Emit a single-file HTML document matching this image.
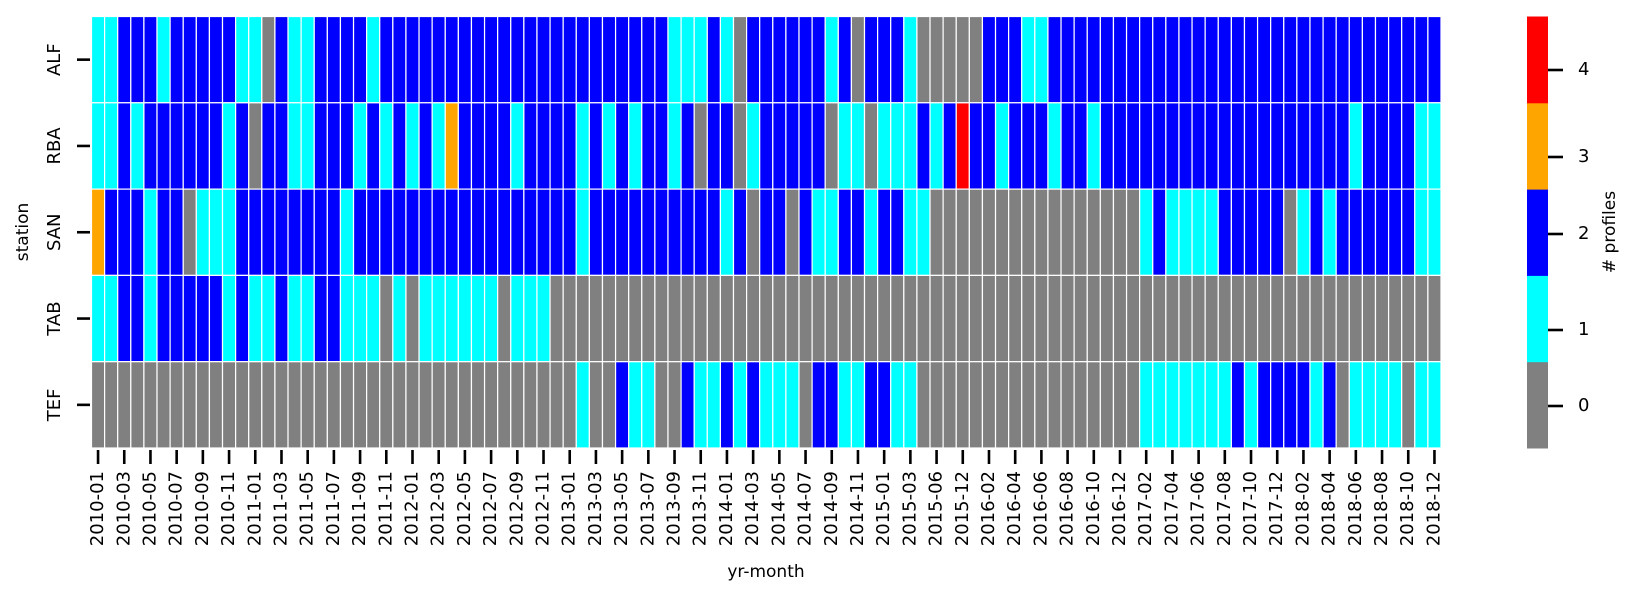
<!DOCTYPE html>
<html>
<head>
<meta charset="utf-8">
<style>
  html,body{margin:0;padding:0;background:#fff;}
  svg{display:block;font-family:"DejaVu Sans","Liberation Sans",sans-serif;}
</style>
</head>
<body>
<svg id="chart" width="1635" height="596" viewBox="0 0 1635 596" xmlns="http://www.w3.org/2000/svg">
  <g id="cells"></g>
  <g id="xaxis"></g>
  <g id="yaxis"></g>
  <text x="23" y="232" font-size="17" text-anchor="middle" dominant-baseline="middle" transform="rotate(-90 23 232)">station</text>
  <text x="766" y="577" font-size="17" text-anchor="middle">yr-month</text>
  <g id="cbar"></g>
  <text x="1610" y="232" font-size="17" text-anchor="middle" dominant-baseline="middle" transform="rotate(-90 1610 232)"># profiles</text>
</svg>
<script>
const stations = ["ALF","RBA","SAN","TAB","TEF"];
const months = [
"2010-01","2010-02","2010-03","2010-04","2010-05","2010-06","2010-07","2010-08","2010-09","2010-10","2010-11","2010-12",
"2011-01","2011-02","2011-03","2011-04","2011-05","2011-06","2011-07","2011-08","2011-09","2011-10","2011-11","2011-12",
"2012-01","2012-02","2012-03","2012-04","2012-05","2012-06","2012-07","2012-08","2012-09","2012-10","2012-11","2012-12",
"2013-01","2013-02","2013-03","2013-04","2013-05","2013-06","2013-07","2013-08","2013-09","2013-10","2013-11","2013-12",
"2014-01","2014-02","2014-03","2014-04","2014-05","2014-06","2014-07","2014-08","2014-09","2014-10","2014-11","2014-12",
"2015-01","2015-02","2015-03","2015-04","2015-06","2015-11","2015-12",
"2016-01","2016-02","2016-03","2016-04","2016-05","2016-06","2016-07","2016-08","2016-09","2016-10","2016-11","2016-12",
"2017-01","2017-02","2017-03","2017-04","2017-05","2017-06","2017-07","2017-08","2017-09","2017-10","2017-11","2017-12",
"2018-01","2018-02","2018-03","2018-04","2018-05","2018-06","2018-07","2018-08","2018-09","2018-10","2018-11","2018-12"];
const alfValues = [1,1,2,2,2,1,2,2,2,2, 2,1,1,0,2,1,1,2,2,2, 2,1,2,2,2,2,2,2,2,2, 2,2,2,2,2,2,2,2,2,2,
 2,2,2,2,1,1,1,2,1,0, 2,2,2,2,2,2,1,2,0,2, 2,2,1,0,0,0,0,0,2,2, 2,1,1,2,2,2,2,2,2,2,
 2,2,2,2,2,2,2,2,2,2, 2,2,2,2,2,2,2,2,2,2, 2,2,2];
const rbaValues = [1,1,2,1,2,2,2,2,2,2, 1,2,0,2,2,1,1,2,2,2, 1,2,1,2,1,2,1,3,2,2, 2,2,1,2,2,2,2,1,2,1,
 2,1,2,2,1,2,0,2,2,0, 1,2,2,2,2,2,0,1,1,0, 1,1,1,2,1,2,4,2,2,1, 2,2,2,1,2,2,1,2,2,2,
 2,2,2,2,2,2,2,2,2,2, 2,2,2,2,2,2,1,2,2,2, 2,1,1];
const sanValues = [3,2,2,2,1,2,2,0,1,1, 1,2,2,2,2,2,2,2,2,1, 2,2,2,2,2,2,2,2,2,2, 2,2,2,2,2,2,2,1,2,2,
 2,2,2,2,2,2,2,2,1,2, 0,2,2,0,2,1,1,2,2,1, 2,2,1,1,0,0,0,0,0,0, 0,0,0,0,0,0,0,0,0,0,
 1,2,1,1,1,1,2,2,2,2, 2,0,1,2,1,2,2,2,2,2, 2,1,1];
const tabValues = [1,1,2,2,1,2,2,2,2,2, 1,2,1,1,2,1,1,2,2,1, 1,1,0,1,0,1,1,1,1,1, 1,0,1,1,1,0,0,0,0,0,
 0,0,0,0,0,0,0,0,0,0, 0,0,0,0,0,0,0,0,0,0, 0,0,0,0,0,0,0,0,0,0, 0,0,0,0,0,0,0,0,0,0,
 0,0,0,0,0,0,0,0,0,0, 0,0,0,0,0,0,0,0,0,0, 0,0,0];
const tefValues = [0,0,0,0,0,0,0,0,0,0, 0,0,0,0,0,0,0,0,0,0, 0,0,0,0,0,0,0,0,0,0, 0,0,0,0,0,0,0,1,0,0,
 2,1,1,0,0,2,1,1,2,1, 2,1,1,1,0,2,2,1,1,2, 2,1,1,0,0,0,0,0,0,0, 0,0,0,0,0,0,0,0,0,0,
 1,1,1,1,1,1,1,2,1,2, 2,2,2,1,2,0,1,1,1,1, 0,1,1];
const cbarTicks = [0,1,2,3,4];

const series = [alfValues, rbaValues, sanValues, tabValues, tefValues];
const colors = ["#808080","#00ffff","#0000ff","#ffa500","#ff0000"];
const NS = "http://www.w3.org/2000/svg";
const X0 = 91.5, X1 = 1441, Y0 = 16.5, Y1 = 448;
const cw = (X1 - X0) / months.length;
const rh = (Y1 - Y0) / stations.length;
const xScale = i => X0 + i * cw;
const yScale = r => Y0 + r * rh;

function mk(tag, attrs){ const e = document.createElementNS(NS, tag); for (const k in attrs) e.setAttribute(k, attrs[k]); return e; }

const cells = document.getElementById('cells');
series.forEach((vals, r) => {
  vals.forEach((v, i) => {
    const rect = mk('rect', {x: xScale(i), y: yScale(r), width: cw, height: rh, fill: colors[v], stroke: '#fff', 'stroke-width': 1.2});
    
    
    cells.appendChild(rect);
  });
});

const xaxis = document.getElementById('xaxis');
months.forEach((m, i) => {
  if (i % 2 !== 0) return;
  const cx = xScale(i) + cw / 2;
  const t = mk('line', {x1: cx, x2: cx, y1: Y1 + 2, y2: Y1 + 16, stroke: '#000', 'stroke-width': 2.6});
  
  
  xaxis.appendChild(t);
  const lab = mk('text', {x: cx, y: 471, 'font-size': 18, 'text-anchor': 'end', 'dominant-baseline': 'middle', transform: `rotate(-90 ${cx} 471)`});
  
  
  lab.textContent = m;
  xaxis.appendChild(lab);
});

const yaxis = document.getElementById('yaxis');
stations.forEach((s, r) => {
  const cy = yScale(r) + rh / 2;
  const t = mk('line', {x1: 77, x2: 90, y1: cy, y2: cy, stroke: '#000', 'stroke-width': 2.6});
  
  
  yaxis.appendChild(t);
  const lab = mk('text', {x: 55, y: cy, 'font-size': 18, 'text-anchor': 'middle', 'dominant-baseline': 'middle', transform: `rotate(-90 55 ${cy})`});
  
  
  lab.textContent = s;
  yaxis.appendChild(lab);
});

const cbar = document.getElementById('cbar');
const CBX = 1527, CBW = 21;
const cbH = (Y1 - Y0) / cbarTicks.length;
const cbTickY = [406, 330, 234, 157, 70];
cbarTicks.forEach((v, k) => {
  const top = Y1 - (k + 1) * cbH;
  const seg = mk('rect', {x: CBX, y: top, width: CBW, height: cbH + 0.5, fill: colors[v]});
  
  
  cbar.appendChild(seg);
  const ty = cbTickY[k];
  const t = mk('line', {x1: CBX + CBW, x2: CBX + CBW + 15, y1: ty, y2: ty, stroke: '#000', 'stroke-width': 2.6});
  
  
  cbar.appendChild(t);
  const lab = mk('text', {x: 1578, y: ty, 'font-size': 18, 'dominant-baseline': 'middle'});
  
  
  lab.textContent = String(v);
  cbar.appendChild(lab);
});
</script>
</body>
</html>
